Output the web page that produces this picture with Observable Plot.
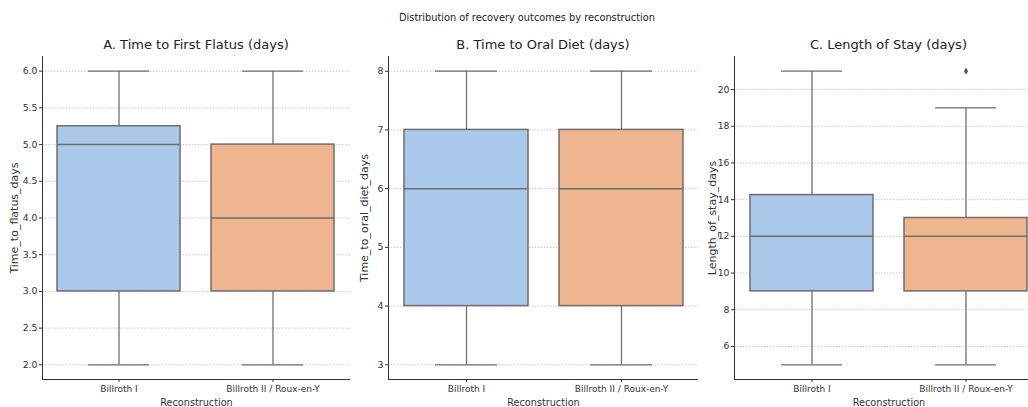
<!DOCTYPE html>
<html>
<head>
<meta charset="utf-8">
<script src="https://cdn.jsdelivr.net/npm/d3@7"></script>
<script src="https://cdn.jsdelivr.net/npm/@observablehq/plot@0.6"></script>
<style>
  html, body { margin: 0; padding: 0; background: #fff; overflow: hidden; }
  #wrap { position: relative; width: 1028px; height: 407px; overflow: hidden; font-family: "DejaVu Sans", sans-serif; }
  .panel { position: absolute; top: 0; }
  .ttl { position: absolute; text-align: center; color: #222; white-space: nowrap; }
</style>
</head>
<body>
<div id="wrap"></div>
<script>
// ---- data ----
const categories = ["Billroth I", "Billroth II / Roux-en-Y"];
const colors = ["#a9c8ea", "#efb58f"];

const flatusLow    = [2, 2];
const flatusQ1     = [3, 3];
const flatusMedian = [5, 4];
const flatusQ3     = [5.25, 5];
const flatusHigh   = [6, 6];
const flatusTicks  = [2.0, 2.5, 3.0, 3.5, 4.0, 4.5, 5.0, 5.5, 6.0];

const dietLow    = [3, 3];
const dietQ1     = [4, 4];
const dietMedian = [6, 6];
const dietQ3     = [7, 7];
const dietHigh   = [8, 8];
const dietTicks  = [3, 4, 5, 6, 7, 8];

const stayLow    = [5, 5];
const stayQ1     = [9, 9];
const stayMedian = [12, 12];
const stayQ3     = [14.25, 13];
const stayHigh   = [21, 19];
const stayTicks  = [6, 8, 10, 12, 14, 16, 18, 20];
const stayOutlierCat = ["Billroth II / Roux-en-Y"];
const stayOutlierVal = [21];

const panels = [
  {title: "A. Time to First Flatus (days)", ylabel: "Time_to_flatus_days", low: flatusLow, q1: flatusQ1, med: flatusMedian, q3: flatusQ3, high: flatusHigh, ticks: flatusTicks, fmt: d3.format(".1f"), left: 0, ml: 42, width: 350, outCat: [], outVal: []},
  {title: "B. Time to Oral Diet (days)", ylabel: "Time_to_oral_diet_days", low: dietLow, q1: dietQ1, med: dietMedian, q3: dietQ3, high: dietHigh, ticks: dietTicks, fmt: d3.format("d"), left: 350, ml: 38, width: 348, outCat: [], outVal: []},
  {title: "C. Length of Stay (days)", ylabel: "Length_of_stay_days", low: stayLow, q1: stayQ1, med: stayMedian, q3: stayQ3, high: stayHigh, ticks: stayTicks, fmt: d3.format("d"), left: 698, ml: 36, width: 345, outCat: stayOutlierCat, outVal: stayOutlierVal}
];

const wrap = document.getElementById("wrap");
const lineCol = "#6e6e6e";

for (const p of panels) {
  const rows = categories.map((c, i) => ({cat: c, low: p.low[i], q1: p.q1[i], med: p.med[i], q3: p.q3[i], high: p.high[i], color: colors[i]}));
  const outs = p.outCat.map((c, i) => ({cat: c, v: p.outVal[i]}));
  const lo = d3.min(p.low.concat(p.outVal)), hi = d3.max(p.high.concat(p.outVal));
  const pad = (hi - lo) * 0.05;
  const chart = Plot.plot({
    width: p.width,
    height: 407,
    marginLeft: p.ml,
    marginRight: 0,
    marginTop: 56,
    marginBottom: 28,
    style: {fontFamily: "DejaVu Sans, sans-serif", fontSize: "9px", color: "#333", background: "transparent"},
    x: {type: "band", domain: categories, paddingInner: 0.2, paddingOuter: 0.1, label: null},
    y: {domain: [lo - pad, hi + pad], label: null},
    marks: [
      Plot.ruleY(p.ticks, {stroke: "#b8b8b8", strokeWidth: 0.8, strokeDasharray: "1.5,1.5"}),
      Plot.ruleX(rows, {x: "cat", y1: "low", y2: "q1", stroke: lineCol, strokeWidth: 1.3}),
      Plot.ruleX(rows, {x: "cat", y1: "q3", y2: "high", stroke: lineCol, strokeWidth: 1.3}),
      Plot.tickY(rows, {x: "cat", y: "low", stroke: lineCol, strokeWidth: 1.3, insetLeft: 31, insetRight: 31}),
      Plot.tickY(rows, {x: "cat", y: "high", stroke: lineCol, strokeWidth: 1.3, insetLeft: 31, insetRight: 31}),
      Plot.barY(rows, {x: "cat", y1: "q1", y2: "q3", fill: "color", stroke: lineCol, strokeWidth: 1.5}),
      Plot.tickY(rows, {x: "cat", y: "med", stroke: lineCol, strokeWidth: 1.5}),
      Plot.dot(outs, {x: "cat", y: "v", symbol: "diamond", r: 2.2, fill: "#555", stroke: "none"}),
      Plot.axisY({ticks: p.ticks, tickFormat: p.fmt, tickSize: 3, tickPadding: 2, label: p.ylabel, labelAnchor: "center", labelArrow: "none", labelOffset: p.ml - 10, fontSize: 9.3}),
      Plot.axisX({tickSize: 3, tickPadding: 3, label: "Reconstruction", labelAnchor: "center", labelArrow: "none", labelOffset: 26, fontSize: 9}),
      Plot.frame({anchor: "left", stroke: "#333", strokeWidth: 1}),
      Plot.frame({anchor: "bottom", stroke: "#333", strokeWidth: 1})
    ]
  });
  chart.classList.add("panel");
  chart.style.left = p.left + "px";
  const yl = chart.querySelector('[aria-label="y-axis label"]');
  if (yl) yl.setAttribute("font-size", "11");
  const xl = chart.querySelector('[aria-label="x-axis label"]');
  if (xl) xl.setAttribute("font-size", "9.7");
  wrap.appendChild(chart);

  const t = document.createElement("div");
  t.className = "ttl";
  t.textContent = p.title;
  t.style.fontSize = "13px";
  t.style.width = (p.width - p.ml) + "px";
  t.style.left = (p.left + p.ml) + "px";
  t.style.top = "37px";
  wrap.appendChild(t);
}

const sup = document.createElement("div");
sup.className = "ttl";
sup.textContent = "Distribution of recovery outcomes by reconstruction";
sup.style.fontSize = "9.8px";
sup.style.width = "1028px";
sup.style.left = "13px";
sup.style.top = "12px";
wrap.appendChild(sup);
</script>
</body>
</html>
